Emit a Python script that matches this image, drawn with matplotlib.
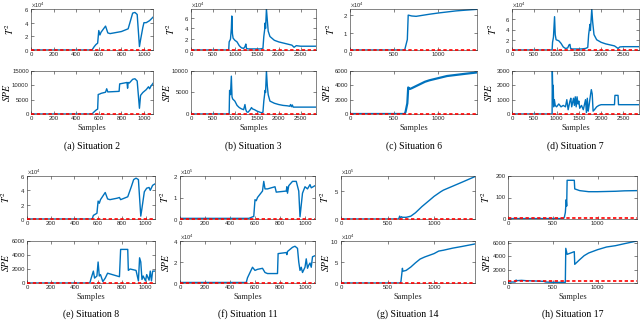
import matplotlib
matplotlib.use('Agg')
from matplotlib import pyplot as plt
from matplotlib.ticker import ScalarFormatter

plt.rcParams['font.family'] = ['Liberation Sans', 'DejaVu Sans']
plt.rcParams['mathtext.fontset'] = 'stix'

# ---- data (sample index, statistic) ----
captions = ['(a) Situation 2', '(b) Situation 3', '(c) Situation 6', '(d) Situation 7',
            '(e) Situation 8', '(f) Situation 11', '(g) Situation 14', '(h) Situation 17']
n_samples = [1080, 2850, 1440, 2850, 1080, 1080, 1440, 1440]

a_t2_x = [0, 540, 560, 575, 590, 600, 610, 620, 660, 680, 700, 800, 860, 900, 920, 940, 960, 970, 990, 1000, 1020, 1050, 1080]
a_t2_y = [0, 0, 5000, 8000, 10000, 28500, 22000, 26000, 35000, 25000, 24000, 27000, 31000, 54000, 55000, 52000, 5000, 15000, 33000, 40000, 40000, 43000, 48000]
a_spe_x = [0, 540, 560, 580, 590, 595, 610, 620, 660, 670, 680, 780, 785, 850, 855, 860, 870, 900, 920, 940, 960, 970, 990, 1020, 1040, 1050, 1060, 1080]
a_spe_y = [0, 0, 800, 1500, 1700, 6800, 7000, 7200, 7600, 8800, 7700, 7900, 10500, 11000, 9000, 11000, 10800, 12100, 12300, 11500, 2000, 6500, 7500, 8500, 9500, 8800, 9600, 10700]

b_t2_x = [0, 860, 870, 900, 920, 930, 945, 960, 1000, 1050, 1100, 1150, 1200, 1230, 1250, 1265, 1300, 1400, 1500, 1580, 1640, 1660, 1680, 1690, 1700, 1720, 1740, 1760, 1800, 1900, 2000, 2100, 2200, 2300, 2350, 2400, 2500, 2850]
b_t2_y = [0, 0, 15000, 20000, 40000, 63000, 30000, 22000, 18000, 15000, 8000, 4000, 3000, 6000, 11000, 3000, 2000, 2000, 2000, 2000, 3000, 25000, 38000, 50000, 40000, 76000, 55000, 35000, 25000, 18000, 15000, 13000, 11000, 9000, 5000, 8000, 7000, 7000]
b_spe_x = [0, 870, 880, 900, 920, 935, 950, 1000, 1050, 1100, 1150, 1200, 1230, 1250, 1270, 1300, 1350, 1380, 1400, 1450, 1500, 1550, 1600, 1640, 1660, 1690, 1700, 1720, 1740, 1760, 1800, 1900, 2000, 2100, 2200, 2250, 2270, 2290, 2310, 2330, 2400, 2850]
b_spe_y = [0, 0, 5500, 4500, 8800, 4000, 3500, 3000, 2000, 1500, 1200, 1000, 2200, 1000, 500, 400, 1000, 1500, 1200, 1000, 700, 500, 300, 400, 3000, 5500, 5000, 10000, 6500, 4500, 3000, 2500, 2200, 2000, 1900, 1800, 2200, 1700, 2100, 1600, 1600, 1600]

c_t2_x = [0, 620, 630, 650, 660, 700, 750, 800, 900, 1000, 1100, 1200, 1300, 1440]
c_t2_y = [0, 0, 2000, 6000, 20000, 19500, 19300, 19700, 20500, 21200, 21800, 22400, 22800, 23300]
c_spe_x = [0, 620, 630, 650, 660, 680, 700, 750, 800, 850, 900, 1000, 1100, 1200, 1300, 1440]
c_spe_y = [0, 0, 300, 1500, 3700, 3500, 3600, 3900, 4200, 4500, 4700, 5000, 5300, 5450, 5600, 5800]

d_t2_x = [0, 900, 910, 930, 955, 970, 990, 1050, 1100, 1150, 1200, 1250, 1280, 1300, 1315, 1350, 1450, 1550, 1650, 1700, 1720, 1750, 1760, 1790, 1810, 1840, 1900, 2000, 2100, 2200, 2300, 2380, 2420, 2500, 2850]
d_t2_y = [0, 0, 15000, 25000, 65000, 30000, 20000, 18000, 13000, 6000, 3000, 4000, 10000, 11000, 3000, 2000, 2000, 2000, 3000, 5000, 30000, 50000, 38000, 80000, 55000, 30000, 20000, 15000, 12000, 10000, 8000, 3000, 6000, 6500, 6500]
d_spe_x = [0, 900, 905, 915, 925, 935, 950, 970, 1000, 1050, 1100, 1150, 1200, 1230, 1260, 1300, 1320, 1340, 1380, 1400, 1420, 1440, 1460, 1480, 1500, 1520, 1560, 1600, 1650, 1670, 1690, 1710, 1730, 1760, 1780, 1800, 1820, 1850, 1900, 1950, 2000, 2300, 2310, 2380, 2390, 2850]
d_spe_y = [0, 0, 3000, 1500, 2000, 500, 1000, 600, 500, 700, 500, 600, 500, 1000, 300, 900, 1100, 500, 1100, 600, 1200, 500, 1200, 700, 900, 400, 600, 300, 1000, 100, 1100, 200, 600, 1300, 1700, 1400, 200, 300, 500, 600, 650, 650, 1300, 1300, 650, 650]

e_t2_x = [0, 550, 560, 580, 590, 600, 610, 620, 660, 680, 700, 760, 780, 790, 850, 880, 900, 920, 940, 960, 970, 990, 1010, 1030, 1040, 1060, 1080]
e_t2_y = [0, 0, 5000, 7000, 8000, 25000, 22000, 27000, 37000, 28000, 27000, 29000, 30000, 27000, 31000, 45000, 55000, 57000, 55000, 4000, 15000, 38000, 43000, 44000, 40000, 47000, 49000]
e_spe_x = [0, 530, 540, 560, 570, 590, 600, 610, 620, 640, 660, 680, 700, 760, 780, 790, 850, 855, 870, 920, 940, 950, 960, 970, 980, 1000, 1010, 1030, 1040, 1050, 1060, 1080]
e_spe_y = [0, 0, 600, 1700, 700, 1000, 3000, 1000, 1200, 200, 700, 1400, 1300, 1000, 900, 4800, 4800, 1800, 2000, 1800, 300, 3600, 3000, 500, 1000, 300, 1200, 400, 1700, 300, 1700, 1700]

f_t2_x = [0, 550, 560, 580, 590, 600, 610, 620, 660, 670, 680, 700, 760, 770, 850, 855, 860, 870, 900, 930, 950, 960, 980, 1000, 1020, 1040, 1050, 1080]
f_t2_y = [3000, 3000, 5000, 10000, 12000, 90000, 85000, 100000, 130000, 175000, 140000, 140000, 150000, 125000, 130000, 150000, 120000, 155000, 175000, 175000, 130000, 10000, 120000, 150000, 140000, 160000, 145000, 155000]
f_spe_x = [0, 530, 540, 560, 580, 600, 620, 640, 660, 680, 700, 780, 785, 850, 855, 860, 900, 920, 940, 950, 960, 970, 980, 1000, 1010, 1020, 1030, 1040, 1050, 1060, 1080]
f_spe_y = [500, 500, 5000, 10000, 15000, 12000, 13000, 13500, 14000, 10000, 9000, 9000, 28000, 29000, 27000, 30000, 34000, 35000, 33000, 20000, 12000, 15000, 10000, 15000, 23000, 14000, 17000, 19000, 15000, 25000, 26000]

g_t2_x = [0, 620, 630, 640, 650, 660, 700, 750, 800, 870, 950, 1000, 1070, 1100, 1200, 1300, 1440]
g_t2_y = [0, 0, 50000, 20000, 40000, 30000, 30000, 50000, 110000, 220000, 330000, 400000, 480000, 510000, 580000, 650000, 750000]
g_spe_x = [0, 640, 645, 660, 665, 700, 750, 800, 850, 900, 1000, 1050, 1100, 1200, 1300, 1440]
g_spe_y = [0, 0, 5000, 35000, 28000, 30000, 38000, 48000, 57000, 62000, 70000, 76000, 78000, 83000, 87000, 93000]

h_t2_x = [0, 620, 630, 640, 650, 655, 660, 740, 745, 800, 900, 1000, 1100, 1200, 1300, 1440]
h_t2_y = [2, 2, 10, 30, 90, 60, 180, 180, 140, 132, 127, 127, 128, 129, 131, 132]
h_spe_x = [0, 80, 90, 100, 150, 200, 300, 400, 420, 500, 600, 640, 645, 660, 700, 740, 745, 800, 850, 900, 1000, 1100, 1200, 1300, 1440]
h_spe_y = [150, 150, 450, 350, 400, 350, 300, 250, 150, 100, 100, 100, 5200, 4300, 4500, 4700, 2800, 3500, 4100, 4500, 5000, 5400, 5600, 5900, 6300]

t2_x = [a_t2_x, b_t2_x, c_t2_x, d_t2_x, e_t2_x, f_t2_x, g_t2_x, h_t2_x]
t2_y = [a_t2_y, b_t2_y, c_t2_y, d_t2_y, e_t2_y, f_t2_y, g_t2_y, h_t2_y]
spe_x = [a_spe_x, b_spe_x, c_spe_x, d_spe_x, e_spe_x, f_spe_x, g_spe_x, h_spe_x]
spe_y = [a_spe_y, b_spe_y, c_spe_y, d_spe_y, e_spe_y, f_spe_y, g_spe_y, h_spe_y]

# control limits (dashed red)
t2_limit = [300, 300, 150, 300, 300, 1000, 3000, 5]
spe_limit = [100, 60, 40, 20, 40, 200, 500, 250]

t2_top = [60000, 76000, 23500, 80000, 60000, 200000, 760000, 200]
spe_top = [15000, 10000, 6000, 3000, 6000, 40000, 100000, 6300]
t2_ticks = [[0, 2e4, 4e4, 6e4], [0, 2e4, 4e4, 6e4], [0, 1e4, 2e4], [0, 2e4, 4e4, 6e4],
            [0, 2e4, 4e4, 6e4], [0, 1e5, 2e5], [0, 5e5], [0, 100, 200]]
spe_ticks = [[0, 5000, 10000, 15000], [0, 5000, 10000], [0, 2000, 4000, 6000], [0, 1000, 2000, 3000],
             [0, 2000, 4000, 6000], [0, 2e4, 4e4], [0, 5e4, 1e5], [0, 2000, 4000, 6000]]
t2_exp = [4, 4, 4, 4, 4, 5, 5, None]
spe_exp = [None, None, None, None, None, 4, 4, None]
xticks = [range(0, 1001, 200), range(0, 2501, 500), range(0, 1001, 500), range(0, 2501, 500),
          range(0, 1001, 200), range(0, 1001, 200), range(0, 1001, 500), range(0, 1001, 500)]

# ---- layout (pixel boxes) ----
W, H = 640, 320
x_edges = [(31, 153), (191, 316), (350, 477), (512, 639), (27, 155), (180, 315), (341, 475), (508, 637)]
row_t2 = [(9, 50), (176, 219)]
row_spe = [(71, 114), (241, 283)]
samples_y = [128, 297]
caption_y = [146, 314]
# distance (px) from axes left edge to the right side of the y-label
t2_label_dx = [15, 14, 13, 13, 15, 9, 10, 16]
spe_label_dx = [19, 19, 18, 18, 16, 9, 10, 16]

fig = plt.figure(figsize=(6.4, 3.2), dpi=100)

blue = '#0072BD'
red = '#FF0000'


def style(ax, xmax, top, ticks, xt, exp):
    ax.set_xlim(0, xmax)
    ax.set_ylim(0, top)
    ax.set_yticks(ticks)
    ax.set_xticks(list(xt))
    ax.tick_params(direction='in', length=2, width=0.4, labelsize=4.3, pad=1.5,
                   top=True, right=True, colors='#262626')
    for s in ax.spines.values():
        s.set_linewidth(0.4)
        s.set_color('#262626')
    if exp is not None:
        fmt = ScalarFormatter(useMathText=True)
        ax.yaxis.set_major_formatter(fmt)
        ax.ticklabel_format(axis='y', style='sci', scilimits=(exp, exp))
        off = ax.yaxis.get_offset_text()
        off.set_fontsize(4)
        off.set_color('#262626')
        off.set_verticalalignment('center')
    else:
        ax.ticklabel_format(axis='y', style='plain')


for i in range(8):
    row = i // 4
    x0, x1 = x_edges[i]
    wpx = x1 - x0
    for kind in ('t2', 'spe'):
        top_px, bot_px = row_t2[row] if kind == 't2' else row_spe[row]
        ax = fig.add_axes([x0 / W, 1 - bot_px / H, wpx / W, (bot_px - top_px) / H])
        if kind == 't2':
            xs, ys, lim = t2_x[i], t2_y[i], t2_limit[i]
            style(ax, n_samples[i], t2_top[i], t2_ticks[i], xticks[i], t2_exp[i])
            ax.set_ylabel('$T^2$', fontsize=7)
            ax.yaxis.set_label_coords(-t2_label_dx[i] / wpx, 0.5)
        else:
            xs, ys, lim = spe_x[i], spe_y[i], spe_limit[i]
            style(ax, n_samples[i], spe_top[i], spe_ticks[i], xticks[i], spe_exp[i])
            ax.set_ylabel('$SPE$', fontsize=7)
            ax.yaxis.set_label_coords(-spe_label_dx[i] / wpx, 0.5)
        lw = 1.6 if (i == 2 and kind == 'spe') else 1.0
        ax.plot(xs, ys, color=blue, lw=lw)
        ax.plot([0, n_samples[i]], [lim, lim], color=red, lw=1.2, ls=(0, (2, 1.5)),
                zorder=3, clip_on=False)
    cx = (x0 + x1) / 2 / W
    fig.text(cx, 1 - samples_y[row] / H, 'Samples', ha='center', va='center',
             fontsize=6, family='Liberation Serif', color='#262626')
    fig.text(cx, 1 - caption_y[row] / H, captions[i], ha='center', va='center',
             fontsize=7, family='Liberation Serif')

fig.savefig('out.png', dpi=100)
